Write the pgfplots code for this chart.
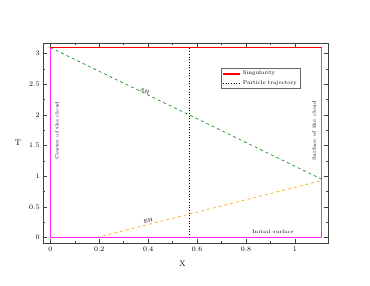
\documentclass[border=0pt]{standalone}
\usepackage{pgfplots}
\pgfplotsset{compat=1.18}
\definecolor{agreen}{RGB}{20,150,20}
\definecolor{aorange}{RGB}{255,170,20}
\definecolor{amag}{RGB}{255,40,255}
\definecolor{ablue}{RGB}{110,110,255}
\begin{document}
\begin{tikzpicture}
\begin{axis}[
  at={(0,0)}, anchor=south west,
  scale only axis, width=285bp, height=200bp,
  xmin=-0.03, xmax=1.135, ymin=-0.09, ymax=3.175,
  xtick={0,0.2,0.4,0.6,0.8,1}, ytick={0,0.5,1,1.5,2,2.5,3},
  minor x tick num=1, minor y tick num=1,
  tick align=inside,
  major tick length=4bp, minor tick length=2bp,
  axis line style={black!75, line width=0.6pt},
  tick style={black!75, line width=0.6pt},
  ticklabel style={font=\fontsize{7}{8}\selectfont},
  xlabel={X}, ylabel={T},
  label style={font=\fontsize{8}{9}\selectfont},
  xlabel style={at={(axis description cs:0.49,-0.075)}, anchor=north},
  ylabel style={rotate=-90, at={(axis description cs:-0.065,0.5)}, anchor=east},
  legend style={at={(axis cs:0.697,2.77)}, anchor=north west,
    font=\fontsize{5.5}{6.5}\selectfont, draw=black!60,
    inner sep=1pt},
  legend cell align=left,
]
\node[rotate=90, font=\fontsize{5}{6}\selectfont, anchor=north] at (axis cs:0.005,1.75) {Center of the cloud};
\node[rotate=90, font=\fontsize{5}{6}\selectfont, anchor=south] at (axis cs:1.1,1.74) {Surface of the cloud};
\node[rotate=-25, font=\fontsize{5}{6}\selectfont, inner sep=0.3pt] at (axis cs:0.386,2.39) {AH};
\node[rotate=14, font=\fontsize{5}{6}\selectfont, inner sep=0.3pt] at (axis cs:0.40,0.28) {EH};
\node[font=\fontsize{5}{6}\selectfont, anchor=south] at (axis cs:0.91,0.0) {Initial surface};
\addplot[agreen, dashed, line width=0.7pt, forget plot] coordinates {(0,3.1) (1.11,0.95)};
\addplot[aorange, dashed, line width=0.7pt, forget plot] coordinates {(0.19,0) (1.11,0.93)};
\addplot[amag, line width=1.2pt, forget plot] coordinates {(0,0) (0,3.1)};
\addplot[amag, line width=1.2pt, forget plot] coordinates {(0,0) (1.11,0)};
\addplot[ablue, line width=1.2pt, forget plot] coordinates {(1.11,0) (1.11,3.1)};
\addplot[red, line width=1.8pt] coordinates {(0,3.1) (1.11,3.1)};
\addlegendentry{Singularity}
\addplot[black, dotted, line width=0.7pt] coordinates {(0.57,0) (0.57,3.1)};
\addlegendentry{Particle trajectory}
\end{axis}
\path (-43bp,-43bp) (327bp,243bp);
\end{tikzpicture}
\end{document}
